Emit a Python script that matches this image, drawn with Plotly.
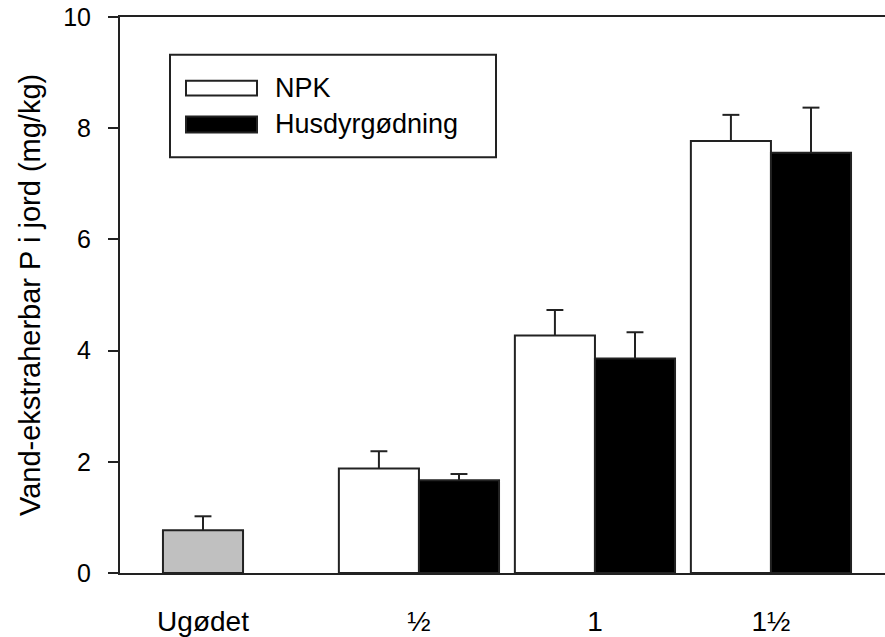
import plotly.graph_objects as go

# Data: water-extractable P in soil (mg/kg)
categories = ["Ugødet", "½", "1", "1½"]
rates = ["½", "1", "1½"]

control_value = [0.77]
control_err = [0.25]

npk = [1.88, 4.27, 7.77]
npk_err = [0.31, 0.46, 0.47]

manure = [1.67, 3.86, 7.56]
manure_err = [0.11, 0.47, 0.81]

series_names = ["NPK", "Husdyrgødning"]
y_title = "Vand-ekstraherbar P i jord (mg/kg)"
y_ticks = [0, 2, 4, 6, 8, 10]

# Layout constants
W, H = 885, 637
ML, MR, MT, MB = 120, 0, 17, 61
positions = {"Ugødet": 0.0, "½": 1.227, "1": 2.227, "1½": 3.227}
bar_w = 0.455
cap_half = 0.048
x_range = [-0.4716, 3.875]
FONT = "Arial, Liberation Sans, sans-serif"
LINE = "#222222"
STROKE = 2

pw = W - ML - MR
ph = H - MT - MB


def px_x(p):
    return (p - ML) / pw


def px_y(p):
    return (H - MB - p) / ph


def whiskers(centers, values, errs):
    """Upper-only error whiskers: a stem from the bar top plus a cap."""
    xs, ys = [], []
    for c, v, e in zip(centers, values, errs):
        xs += [c, c, None, c - cap_half, c + cap_half, None]
        ys += [v, v + e, None, v + e, v + e, None]
    return go.Scatter(x=xs, y=ys, mode="lines", showlegend=False, hoverinfo="skip",
                      line=dict(color=LINE, width=STROKE))


fig = go.Figure()
bar_line = dict(color=LINE, width=STROKE)

ctrl_x = [positions["Ugødet"]]
npk_x = [positions[r] for r in rates]
manure_x = [positions[r] for r in rates]

fig.add_trace(go.Bar(
    x=ctrl_x, y=control_value, width=bar_w,
    marker=dict(color="#c0c0c0", line=bar_line),
    showlegend=False, name="Ugødet",
))
fig.add_trace(go.Bar(
    x=npk_x, y=npk, width=bar_w, offset=-bar_w,
    marker=dict(color="white", line=bar_line),
    showlegend=False, name=series_names[0],
))
fig.add_trace(go.Bar(
    x=manure_x, y=manure, width=bar_w, offset=0,
    marker=dict(color="black", line=bar_line),
    showlegend=False, name=series_names[1],
))

fig.add_trace(whiskers(ctrl_x, control_value, control_err))
fig.add_trace(whiskers([x - bar_w / 2 for x in npk_x], npk, npk_err))
fig.add_trace(whiskers([x + bar_w / 2 for x in manure_x], manure, manure_err))

# Custom legend box with wide swatches
shapes = [
    dict(type="rect", xref="paper", yref="paper",
         x0=px_x(170), x1=px_x(496), y0=px_y(158), y1=px_y(55),
         line=dict(color=LINE, width=STROKE), fillcolor="white", layer="above"),
    dict(type="rect", xref="paper", yref="paper",
         x0=px_x(186), x1=px_x(257), y0=px_y(96), y1=px_y(81),
         line=dict(color=LINE, width=STROKE), fillcolor="white", layer="above"),
    dict(type="rect", xref="paper", yref="paper",
         x0=px_x(186), x1=px_x(257), y0=px_y(133), y1=px_y(117),
         line=dict(color=LINE, width=STROKE), fillcolor="black", layer="above"),
]

annotations = [
    dict(text=series_names[0], xref="paper", yref="paper", x=px_x(273), y=px_y(88),
         xanchor="left", yanchor="middle", showarrow=False,
         font=dict(family=FONT, size=27, color="black")),
    dict(text=series_names[1], xref="paper", yref="paper", x=px_x(273), y=px_y(125),
         xanchor="left", yanchor="middle", showarrow=False,
         font=dict(family=FONT, size=27, color="black")),
    dict(text=y_title, xref="paper", yref="paper", x=px_x(30), y=0.5,
         xanchor="center", yanchor="middle", textangle=-90, showarrow=False,
         font=dict(family=FONT, size=29, color="black")),
]

fig.update_layout(
    width=W, height=H,
    margin=dict(l=ML, r=MR, t=MT, b=MB, pad=0),
    paper_bgcolor="white", plot_bgcolor="white",
    barmode="overlay",
    shapes=shapes, annotations=annotations,
    xaxis=dict(
        range=x_range, tickmode="array",
        tickvals=[positions[c] for c in categories], ticktext=categories,
        ticks="", showgrid=False, zeroline=False,
        showline=True, linecolor=LINE, linewidth=STROKE, mirror=True,
        tickfont=dict(family=FONT, size=28, color="black"),
        ticklabelstandoff=22,
    ),
    yaxis=dict(
        range=[0, 10], tickmode="array", tickvals=y_ticks,
        ticks="outside", ticklen=10, tickwidth=STROKE, tickcolor=LINE,
        showgrid=False, zeroline=False,
        showline=True, linecolor=LINE, linewidth=STROKE,
        tickfont=dict(family=FONT, size=25, color="black"),
        ticklabelstandoff=12,
    ),
)

fig.write_html("out.html")
